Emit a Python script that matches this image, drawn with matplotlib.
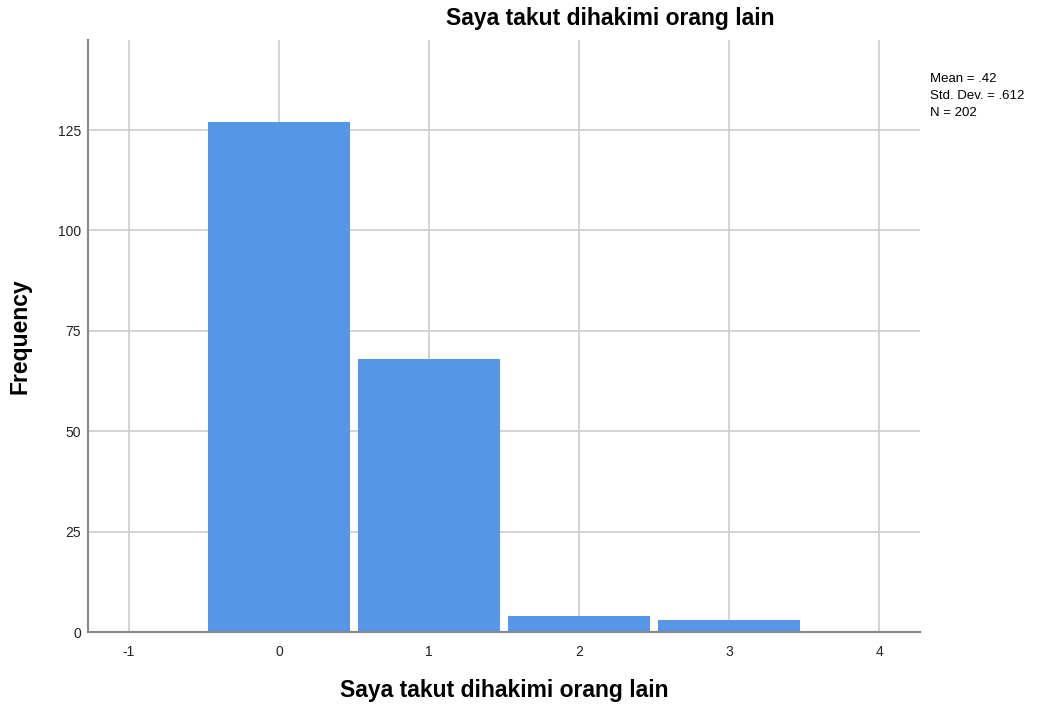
import matplotlib
matplotlib.use("Agg")
import matplotlib.pyplot as plt

plt.rcParams['font.family'] = ['Liberation Sans', 'DejaVu Sans']
plt.rcParams['axes.unicode_minus'] = False

# histogram values
values = [0, 1, 2, 3]
counts = [127, 68, 4, 3]
xticks = [-1, 0, 1, 2, 3, 4]
yticks = [0, 25, 50, 75, 100, 125]
title = "Saya takut dihakimi orang lain"
stats = "Mean = .42\nStd. Dev. = .612\nN = 202"

fig = plt.figure(figsize=(10.54, 7.11), dpi=100)
ax = fig.add_axes([0.0835, 0.111, 0.7895, 0.8327])

ax.bar(values, counts, width=0.95, color='#5596e6', edgecolor='none', zorder=2)

ax.set_xlim(-1.273, 4.273)
ax.set_ylim(0, 147.4)
ax.set_xticks(xticks)
ax.set_yticks(yticks)
ax.tick_params(length=0, labelsize=10, colors='#222222')
ax.tick_params(axis='y', pad=5)
ax.tick_params(axis='x', pad=9)
ax.grid(True, color='#cccccc', linewidth=1.2, zorder=0)
for s in ['top', 'right']:
    ax.spines[s].set_visible(False)
for s in ['left', 'bottom']:
    ax.spines[s].set_color('#888888')
    ax.spines[s].set_linewidth(1.5)
    ax.spines[s].set_zorder(3)

fig.text(610 / 1054, 1 - 19 / 711, title, fontsize=16.5, fontweight='bold',
         ha='center', va='center')
ax.set_xlabel(title, fontsize=16.5, fontweight='bold', labelpad=15)
ax.set_ylabel("Frequency", fontsize=16.5, fontweight='bold')
ax.yaxis.set_label_coords(-0.068, 0.5)

fig.text(0.882, 0.897, stats, fontsize=9.5, va='top', ha='left', linespacing=1.55)

fig.savefig("out.png", dpi=100)
